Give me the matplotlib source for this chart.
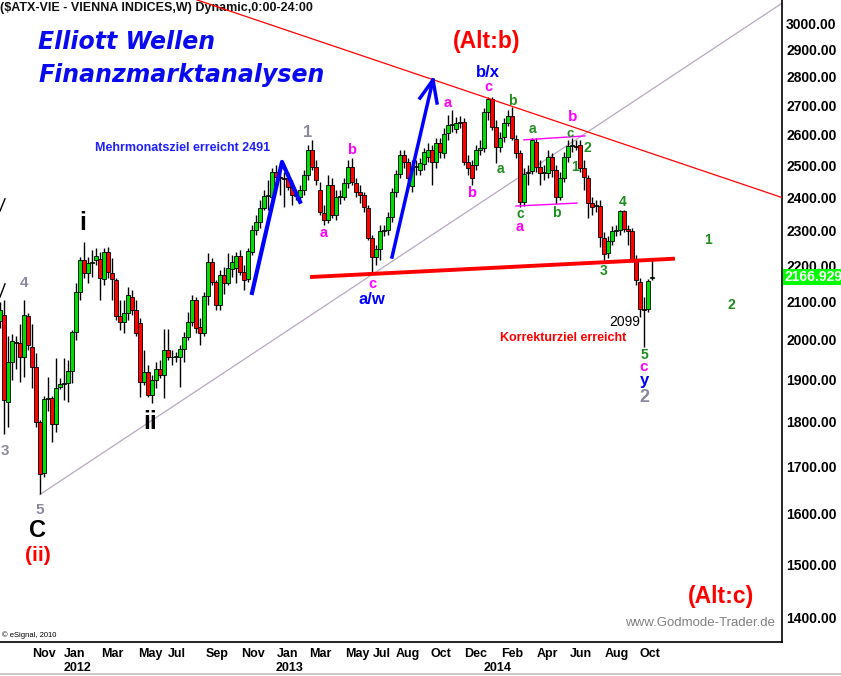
import matplotlib
matplotlib.use('Agg')
import matplotlib.pyplot as plt
from matplotlib.ticker import NullLocator
from matplotlib.transforms import blended_transform_factory
from matplotlib.lines import Line2D

plt.rcParams['font.family'] = ['Liberation Sans', 'DejaVu Sans']

# weekly ATX candles (index 0 = first visible week)
opens = [2047, 2065, 1846, 1944, 1993, 1991, 1957, 2060, 1982, 1932,
         1799, 1685, 1853, 1855, 1794, 1882, 1890, 1892, 1921, 2020,
         2126, 2215, 2178, 2206, 2215, 2218, 2161, 2238, 2178, 2159,
         2060, 2046, 2070, 2112, 2078, 2043, 1895, 1919, 1863, 1900,
         1926, 1912, 1974, 1957, 1956, 1957, 1976, 2007, 2046, 2104,
         2033, 2017, 2115, 2209, 2153, 2091, 2173, 2151, 2190, 2192,
         2226, 2181, 2161, 2238, 2301, 2325, 2367, 2404, 2401, 2479,
         2463, 2460, 2460, 2432, 2407, 2401, 2423, 2470, 2550, 2495,
         2423, 2352, 2331, 2438, 2346, 2401, 2401, 2444, 2495, 2444,
         2416, 2407, 2367, 2278, 2223, 2246, 2299, 2301, 2340, 2416,
         2473, 2533, 2511, 2435, 2495, 2485, 2504, 2527, 2550, 2511,
         2573, 2540, 2606, 2633, 2619, 2640, 2643, 2511, 2501, 2501,
         2550, 2556, 2677, 2722, 2626, 2560, 2593, 2639, 2663, 2586,
         2540, 2386, 2476, 2482, 2576, 2495, 2476, 2476, 2527, 2485,
         2401, 2460, 2527, 2563, 2563, 2566, 2492, 2460, 2382, 2373,
         2373, 2278, 2235, 2270, 2299, 2301, 2358, 2304, 2299, 2215,
         2153, 2080, 2080, 2164]
highs = [2099, 2104, 2008, 2013, 2008, 2039, 2104, 2070, 2039, 1967,
         1805, 1860, 1907, 1860, 1954, 1904, 1954, 1949, 2025, 2151,
         2223, 2267, 2223, 2243, 2248, 2238, 2248, 2252, 2221, 2164,
         2104, 2104, 2140, 2132, 2104, 2057, 1974, 1937, 1912, 1944,
         1949, 2028, 2028, 1974, 1969, 1987, 2020, 2073, 2118, 2112,
         2057, 2126, 2235, 2221, 2159, 2187, 2195, 2235, 2229, 2238,
         2243, 2201, 2248, 2316, 2346, 2392, 2423, 2454, 2492, 2501,
         2485, 2479, 2479, 2454, 2423, 2438, 2485, 2566, 2583, 2517,
         2447, 2376, 2470, 2460, 2423, 2423, 2460, 2517, 2524, 2460,
         2438, 2416, 2376, 2287, 2258, 2316, 2316, 2355, 2429, 2485,
         2550, 2550, 2524, 2517, 2517, 2524, 2556, 2573, 2566, 2589,
         2589, 2623, 2667, 2684, 2660, 2663, 2656, 2533, 2517, 2566,
         2583, 2691, 2729, 2729, 2650, 2610, 2656, 2684, 2694, 2600,
         2550, 2492, 2501, 2589, 2589, 2517, 2501, 2550, 2540, 2501,
         2479, 2543, 2583, 2589, 2583, 2583, 2517, 2470, 2401, 2392,
         2392, 2296, 2284, 2313, 2316, 2361, 2361, 2316, 2307, 2229,
         2164, 2112, 2161, 2221]
lows = [2031, 1771, 1789, 1900, 1925, 1895, 1907, 1974, 1880, 1789,
        1640, 1677, 1824, 1753, 1776, 1877, 1851, 1846, 1892, 2000,
        2104, 2164, 2151, 2167, 2201, 2104, 2145, 2164, 2104, 2052,
        2025, 2017, 2052, 2065, 2008, 1858, 1887, 1858, 1844, 1880,
        1905, 1856, 1949, 1937, 1944, 1882, 1944, 2000, 2036, 2017,
        1987, 2008, 2091, 2145, 2078, 2078, 2121, 2145, 2167, 2151,
        2173, 2132, 2153, 2229, 2287, 2307, 2361, 2361, 2392, 2454,
        2407, 2370, 2423, 2376, 2392, 2392, 2407, 2454, 2485, 2438,
        2346, 2316, 2322, 2337, 2331, 2379, 2392, 2429, 2438, 2401,
        2382, 2355, 2273, 2178, 2201, 2215, 2284, 2287, 2325, 2401,
        2460, 2492, 2438, 2416, 2470, 2470, 2485, 2511, 2438, 2492,
        2524, 2524, 2583, 2610, 2606, 2622, 2501, 2470, 2438, 2485,
        2533, 2543, 2650, 2616, 2508, 2543, 2576, 2629, 2583, 2524,
        2370, 2373, 2438, 2473, 2479, 2438, 2454, 2460, 2463, 2379,
        2392, 2447, 2511, 2543, 2550, 2479, 2423, 2337, 2346, 2355,
        2252, 2209, 2221, 2258, 2284, 2287, 2296, 2258, 2209, 2145,
        2059, 1982, 2073, 2159]
closes = [2078, 1851, 1944, 1995, 1991, 1957, 2065, 1987, 1932, 1799,
          1683, 1853, 1855, 1794, 1880, 1890, 1892, 1921, 2020, 2126,
          2215, 2178, 2206, 2209, 2226, 2164, 2238, 2181, 2161, 2060,
          2046, 2070, 2118, 2078, 2017, 1895, 1919, 1863, 1900, 1926,
          1912, 1974, 1957, 1956, 1958, 1976, 2007, 2046, 2104, 2031,
          2017, 2115, 2209, 2153, 2091, 2173, 2151, 2192, 2209, 2226,
          2181, 2159, 2241, 2301, 2325, 2367, 2404, 2407, 2479, 2463,
          2460, 2457, 2432, 2407, 2405, 2423, 2470, 2550, 2495, 2454,
          2355, 2331, 2438, 2346, 2401, 2404, 2444, 2495, 2447, 2416,
          2407, 2370, 2278, 2223, 2246, 2299, 2301, 2340, 2416, 2473,
          2533, 2511, 2460, 2495, 2497, 2508, 2543, 2550, 2511, 2573,
          2543, 2603, 2633, 2635, 2639, 2643, 2511, 2492, 2460, 2550,
          2556, 2677, 2722, 2626, 2560, 2589, 2639, 2663, 2589, 2540,
          2386, 2473, 2479, 2583, 2495, 2476, 2479, 2527, 2485, 2401,
          2460, 2527, 2563, 2566, 2560, 2492, 2463, 2382, 2370, 2376,
          2281, 2232, 2270, 2299, 2301, 2358, 2304, 2299, 2215, 2159,
          2080, 2078, 2156, 2166.929]

month_labels = ['Nov', 'Jan', 'Mar', 'May', 'Jul', 'Sep', 'Nov', 'Jan', 'Mar', 'May',
                'Jul', 'Aug', 'Oct', 'Dec', 'Feb', 'Apr', 'Jun', 'Aug', 'Oct']
month_pos = [11, 18.75, 28, 37.5, 44.25, 54.25, 63.25, 72, 80, 89.25,
             95.5, 102, 110.25, 119, 128, 136.75, 145.25, 154.25, 162.5]
year_labels = ['2012', '2013', '2014']
year_pos = [19.5, 72.5, 124.5]
price_ticks = list(range(1400, 3001, 100))

# drawn lines (week index, price)
resist_x, resist_y = [49.25, 195.5], [3090, 2399]
trend_x, trend_y = [10, 195.5], [1640, 3077]
support_x, support_y = [78, 168.25], [2167, 2218]
flag_top_x, flag_top_y = [131, 146.25], [2583, 2596]
flag_bot_x, flag_bot_y = [129, 144.25], [2373, 2382]
arrow1_x, arrow1_y = [63, 70.5, 75], [2123, 2511, 2386]
arrow2_x, arrow2_y = [98, 108.25], [2223, 2789]
arrow2_head_x, arrow2_head_y = [105, 108.25, 109.25], [2725, 2789, 2708]

GRAY = '#8a8a9c'
MAG = '#ff00ff'
GRN = '#1e8c1e'
BLUE = '#0000ff'
wave_labels = [
    ('i', 20.75, 2323, 'black', 18), ('ii', 37.5, 1799, 'black', 18),
    ('C', 9.5, 1566, 'black', 17), ('(ii)', 9.5, 1516, 'red', 15),
    ('5', 10, 1608, GRAY, 11), ('4', 6, 2151, GRAY, 11), ('3', 1.25, 1733, GRAY, 11),
    ('1', 77, 2606, GRAY, 12), ('2', 161, 1856, GRAY, 13),
    ('a', 81, 2293, MAG, 10.5), ('b', 88, 2550, MAG, 10.5), ('c', 93, 2148, MAG, 10.5),
    ('a/w', 93, 2104, BLUE, 12),
    ('a', 112, 2708, MAG, 10.5), ('b', 118, 2413, MAG, 10.5), ('c', 122, 2764, MAG, 10.5),
    ('b/x', 122, 2815, BLUE, 12),
    ('b', 128, 2715, GRN, 10), ('a', 125, 2488, GRN, 10), ('a', 133, 2619, GRN, 10),
    ('c', 130, 2350, GRN, 10), ('a', 130, 2309, MAG, 10.5), ('b', 139, 2353, GRN, 10),
    ('c', 142.5, 2602, GRN, 9.5), ('b', 143.25, 2660, MAG, 11), ('1', 143.75, 2495, GRN, 10),
    ('2', 146.75, 2556, GRN, 10), ('3', 151, 2184, GRN, 10), ('4', 155.75, 2386, GRN, 10),
    ('5', 161, 1962, GRN, 10), ('c', 161, 1930, MAG, 11), ('y', 161, 1897, BLUE, 12),
    ('1', 177, 2273, GRN, 10), ('2', 182.75, 2091, GRN, 10),
]

fig = plt.figure(figsize=(8.41, 6.76), dpi=100)
ax = fig.add_axes([0, 34 / 676, 782 / 841, 642 / 676])
ax.set_yscale('log')
ax.set_ylim(1357.6, 3089.7)
ax.set_xlim(0, 195.5)

xs = list(range(len(opens)))
colors = ['#00dd00' if c >= o else '#ff0000' for o, c in zip(opens, closes)]
ax.vlines(xs, lows, highs, color='black', lw=1, zorder=2)
ax.bar(xs, [abs(c - o) for o, c in zip(opens, closes)],
       bottom=[min(o, c) for o, c in zip(opens, closes)],
       width=0.78, color=colors, edgecolor='black', linewidth=0.6, zorder=3)

ax.plot(trend_x, trend_y, color='#b8a8c0', lw=0.9, zorder=1)
ax.plot(resist_x, resist_y, color='red', lw=0.9, zorder=4)
ax.plot(support_x, support_y, color='red', lw=2.8, zorder=4)
ax.plot(flag_top_x, flag_top_y, color=MAG, lw=1, zorder=4)
ax.plot(flag_bot_x, flag_bot_y, color=MAG, lw=1, zorder=4)
ax.plot(arrow1_x, arrow1_y, color=BLUE, lw=3, zorder=5)
ax.plot(arrow2_x, arrow2_y, color=BLUE, lw=2.5, zorder=5)
ax.plot(arrow2_head_x, arrow2_head_y, color=BLUE, lw=2.5, zorder=5)
ax.plot([0, 1.25], [2358, 2395], color='black', lw=1)
ax.plot([0, 1.25], [2112, 2148], color='black', lw=1)

for txt, x, y, col, sz in wave_labels:
    ax.text(x, y, txt, color=col, fontsize=sz, fontweight='bold', ha='center', va='center', zorder=6)

ax.text(45.75, 2556, 'Mehrmonatsziel erreicht 2491', color='#1e1eff', fontsize=9,
        fontweight='bold', ha='center', va='center')
ax.text(140.75, 2003, 'Korrekturziel erreicht', color='red', fontsize=9,
        fontweight='bold', ha='center', va='center')
ax.text(156.25, 2046, '2099', color='black', fontsize=10, ha='center', va='center')

ax.text(0.0, 0.9875, '($ATX-VIE - VIENNA INDICES,W) Dynamic,0:00-24:00', transform=ax.transAxes,
        fontsize=9, fontweight='bold', color='#111111', ha='left', va='center')
ax.text(0.0486, 0.9346, 'Elliott Wellen', transform=ax.transAxes, family='DejaVu Sans',
        fontsize=17, fontweight='bold', style='italic', color='#0a0af0', ha='left', va='center')
ax.text(0.0486, 0.883, 'Finanzmarktanalysen', transform=ax.transAxes, family='DejaVu Sans',
        fontsize=17, fontweight='bold', style='italic', color='#0a0af0', ha='left', va='center')
ax.text(0.6228, 0.9346, '(Alt:b)', transform=ax.transAxes, fontsize=16.5,
        fontweight='bold', color='red', ha='center', va='center')
ax.text(0.922, 0.0701, '(Alt:c)', transform=ax.transAxes, fontsize=16.5,
        fontweight='bold', color='red', ha='center', va='center')
ax.text(0.895, 0.0296, 'www.Godmode-Trader.de', transform=ax.transAxes, fontsize=9.5,
        color='#808080', ha='center', va='center')
ax.text(0.003, 0.011, '\u00a9 eSignal, 2010', transform=ax.transAxes, fontsize=5.5,
        color='black', ha='left', va='center')

# axes styling
for side in ['top', 'left']:
    ax.spines[side].set_visible(False)
for side in ['right', 'bottom']:
    ax.spines[side].set_color('black')
    ax.spines[side].set_linewidth(1.2)

ax.yaxis.tick_right()
ax.set_yticks(price_ticks)
ax.set_yticklabels([f'{v:.2f}' for v in price_ticks], fontsize=10, fontweight='bold')
ax.yaxis.set_minor_locator(NullLocator())
ax.tick_params(axis='y', length=0, pad=3)

ax.set_xticks(month_pos)
ax.set_xticklabels(month_labels, fontsize=9, fontweight='bold')
ax.tick_params(axis='x', length=0, pad=4)
trans = blended_transform_factory(ax.transData, ax.transAxes)
for lab, pos in zip(year_labels, year_pos):
    ax.text(pos, -0.04, lab, transform=trans, fontsize=9,
            fontweight='bold', ha='center', va='center')

ytrans = blended_transform_factory(ax.transAxes, ax.transData)
ax.text(1.003, closes[-1], f'{closes[-1]:.3f}', transform=ytrans, fontsize=10, fontweight='bold',
        color='white', ha='left', va='center',
        bbox=dict(boxstyle='square,pad=0.1', facecolor='#00ff00', edgecolor='none'))

fig.add_artist(Line2D([0, 1], [0.003, 0.003], color='#c8c8c8', lw=1.5, transform=fig.transFigure))

fig.savefig('out.png', dpi=100)
